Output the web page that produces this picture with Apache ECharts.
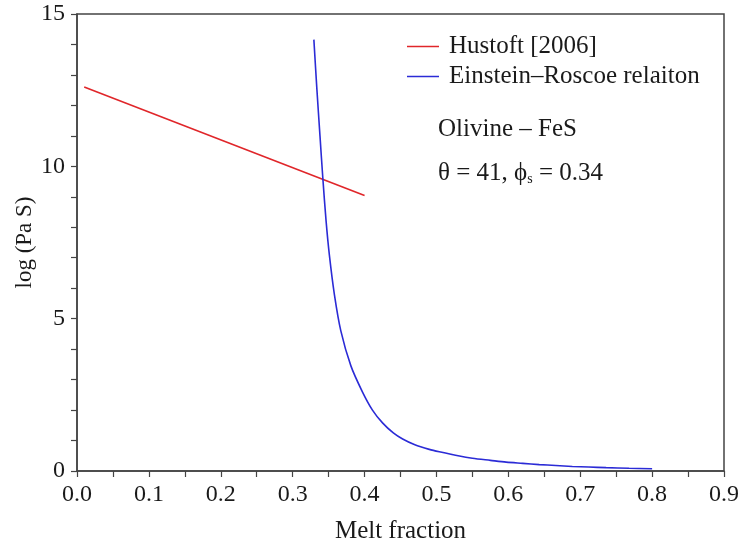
<!DOCTYPE html>
<html lang="en">
<head>
    <meta charset="UTF-8">
    <title>Melt fraction viscosity</title>
    <style>
        * { margin: 0; padding: 0; box-sizing: border-box; }
        body { background: #fff; }
        #chart { width: 742px; height: 549px; }
    </style>
</head>
<body>
    <div id="chart"></div>

    <script src="https://cdn.jsdelivr.net/npm/echarts@6/dist/echarts.min.js"></script>
    <script>
    (() => {
        // Hustoft [2006] – straight line
        const hustoftX = [0.01, 0.40];
        const hustoftY = [12.6, 9.04];

        // Einstein–Roscoe relation
        const erX = [0.3295, 0.3335, 0.338, 0.342, 0.3465, 0.351, 0.358, 0.367, 0.381, 0.397,
                     0.411, 0.425, 0.440, 0.453, 0.470, 0.490, 0.504, 0.532, 0.550, 0.575,
                     0.597, 0.620, 0.643, 0.666, 0.689, 0.712, 0.736, 0.768, 0.800];
        const erY = [14.16, 12.6, 11.0, 9.6, 8.2, 7.1, 5.8, 4.6, 3.45, 2.6,
                     2.0, 1.58, 1.25, 1.05, 0.86, 0.71, 0.63, 0.49, 0.42, 0.35,
                     0.29, 0.25, 0.21, 0.18, 0.15, 0.13, 0.11, 0.09, 0.075];

        const xTicks = ['0.0', '0.1', '0.2', '0.3', '0.4', '0.5', '0.6', '0.7', '0.8', '0.9'];

        const zip = (xs, ys) => xs.map((x, i) => [x, ys[i]]);

        const FONT = '"Liberation Serif", "DejaVu Serif", serif';
        const INK = '#1a1a1a';
        const AXIS = '#444';
        const RED = '#e0262a';
        const BLUE = '#2b2bd6';

        const chart = echarts.init(document.getElementById('chart'));

        chart.setOption({
            animation: false,
            textStyle: { fontFamily: FONT },
            grid: {
                left: 77, right: 17, top: 14, bottom: 76,
                show: true, borderColor: AXIS, borderWidth: 1.5
            },
            legend: {
                orient: 'vertical',
                left: 407, top: 34,
                padding: 0,
                icon: 'rect',
                itemWidth: 32, itemHeight: 1.5,
                itemGap: 5,
                textStyle: { fontFamily: FONT, fontSize: 25, color: INK, padding: [0, 0, 0, 5] },
                data: ['Hustoft [2006]', 'Einstein\u2013Roscoe relaiton']
            },
            xAxis: {
                type: 'value',
                min: 0, max: 0.9, interval: 0.1,
                name: 'Melt fraction',
                nameLocation: 'middle',
                nameGap: 48,
                nameMoveOverlap: false,
                nameTextStyle: { fontFamily: FONT, fontSize: 25, color: INK },
                axisLine: { onZero: false, lineStyle: { color: AXIS, width: 1.5 } },
                axisTick: { length: 6, lineStyle: { color: AXIS, width: 1.2 } },
                minorTick: { show: true, splitNumber: 2, length: 6, lineStyle: { color: AXIS, width: 1.2 } },
                splitLine: { show: false },
                axisLabel: {
                    fontFamily: FONT, fontSize: 24, color: INK, margin: 12,
                    formatter: v => xTicks[Math.round(v * 10)]
                }
            },
            yAxis: {
                type: 'value',
                min: 0, max: 15, interval: 5,
                name: 'log (Pa S)',
                nameLocation: 'middle',
                nameGap: 41,
                nameMoveOverlap: false,
                nameTextStyle: { fontFamily: FONT, fontSize: 23, color: INK },
                axisLine: { show: true, lineStyle: { color: AXIS, width: 1.5 } },
                axisTick: { show: true, length: 6, lineStyle: { color: AXIS, width: 1.2 } },
                minorTick: { show: true, splitNumber: 5, length: 6, lineStyle: { color: AXIS, width: 1.2 } },
                splitLine: { show: false },
                axisLabel: { fontFamily: FONT, fontSize: 24, color: INK, margin: 12 }
            },
            graphic: [
                {
                    type: 'text', left: 438, top: 117,
                    style: { text: 'Olivine \u2013 FeS', font: '25px ' + FONT, fill: INK }
                },
                {
                    type: 'text', left: 438, top: 161,
                    style: {
                        text: '{a|\u03b8 = 41, \u03d5}{s|s}{a| = 0.34}',
                        fill: INK,
                        rich: {
                            a: { fontFamily: FONT, fontSize: 25, color: INK },
                            s: { fontFamily: FONT, fontSize: 14, color: INK, padding: [12, 0, 0, 0] }
                        }
                    }
                }
            ],
            series: [
                {
                    name: 'Hustoft [2006]',
                    type: 'line',
                    data: zip(hustoftX, hustoftY),
                    showSymbol: false,
                    symbol: 'none',
                    itemStyle: { color: RED },
                    lineStyle: { color: RED, width: 1.6 }
                },
                {
                    name: 'Einstein\u2013Roscoe relaiton',
                    type: 'line',
                    data: zip(erX, erY),
                    smooth: 0.3,
                    showSymbol: false,
                    symbol: 'none',
                    itemStyle: { color: BLUE },
                    lineStyle: { color: BLUE, width: 1.6 }
                }
            ]
        });
    })();
    </script>
</body>
</html>
